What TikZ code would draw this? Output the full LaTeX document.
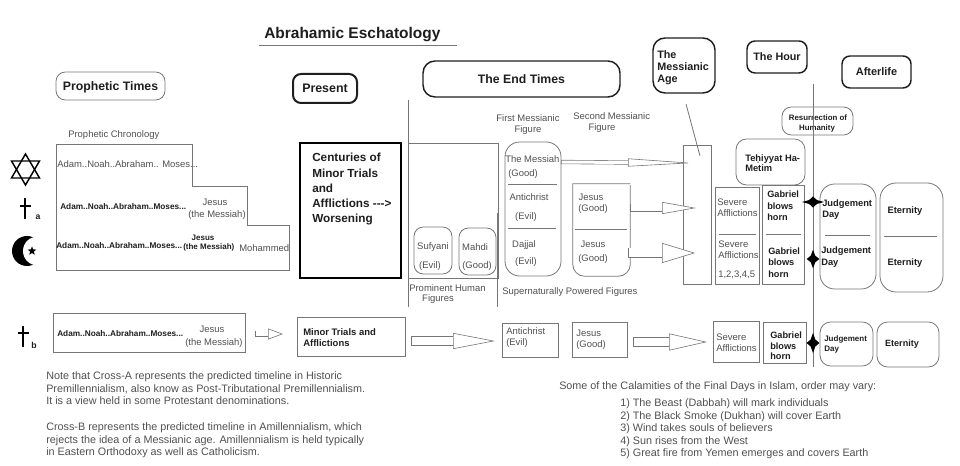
\documentclass[tikz,border=0pt]{standalone}
\usepackage{fontspec}
\setmainfont{Liberation Sans}
\usepackage{xcolor}
\usetikzlibrary{shapes.geometric, arrows.meta}
\definecolor{ink}{HTML}{505050}
\definecolor{dark}{HTML}{1E1E1E}
\definecolor{edge}{HTML}{767676}
\tikzstyle{block}=[draw=edge, rectangle, line width=0.6pt, inner sep=0pt]
\tikzstyle{capsule}=[block, rounded corners=7pt]
\tikzstyle{heavy}=[block, draw=dark, rounded corners=6pt, line width=1.1pt, text=dark]
\tikzstyle{rule}=[draw=edge, line width=0.6pt]
\tikzset{
	wh/.style 2 args={minimum width=#1*0.75pt, minimum height=#2*0.75pt},
	txt/.style={inner sep=0pt, text=ink, font=\fontsize{#1}{#1}\selectfont, text height=0.72*#1pt, text depth=0.06*#1pt},
	bld/.style={inner sep=0pt, text=dark, font=\fontsize{#1}{#1}\selectfont\bfseries, text height=0.72*#1pt, text depth=0.06*#1pt},
	para/.style={inner sep=0pt, text=ink, align=left, font=\fontsize{8.1}{9.35}\selectfont},
	fatarrow/.style n args={3}{line width=0.45pt, draw=edge, double=white, double distance=#1*0.75pt, {Bar[width=#1*0.75pt+0.9pt, line width=0.45pt]}-{Triangle[open, length=#2*0.75pt, width=#3*0.75pt, line width=0.45pt, fill=white]}},
	spark/.style={star, star points=4, star point ratio=2, fill=black, inner sep=0pt, minimum size=#1*0.75pt}
}

\begin{document}
\begin{tikzpicture}[x=0.75pt, y=-0.75pt]
	\useasboundingbox (0,0) rectangle (960,466);
	\node[bld=11.6, anchor=west] (title) at (264,33) {Abrahamic Eschatology};
	\coordinate (titleL) at (259,45);
	\coordinate (titleR) at (457,45);
	\draw[rule] (titleL) -- (titleR);

	\node[capsule, wh={109}{28}, bld=9.2] (times) at (110.5,86) {Prophetic Times};
	\node[heavy, wh={64}{29}, bld=9.3, line width=1.5pt] (present) at (325,88.5) {Present};
	\node[heavy, wh={197}{36}, bld=9.2, rounded corners=9pt] (endtimes) at (521.5,79) {The End Times};
	\node[heavy, wh={62}{55}, rounded corners=9pt] (age) at (684,65.5) {};
	\node[bld=8.1, anchor=west] (ageA) at (657,54.5) {The};
	\node[bld=8.1, anchor=west] (ageB) at (657,67) {Messianic};
	\node[bld=8.1, anchor=west] (ageC) at (657,79) {Age};
	\node[heavy, wh={60}{32}, bld=8.1] (hour) at (777,57) {The Hour};
	\node[heavy, wh={69}{32}, bld=8.2] (afterlife) at (876.5,72) {Afterlife};
	\node[capsule, wh={71}{28}] (rising) at (817.5,121) {};
	\node[bld=5.9] (risingA) at (818,118) {Resurrection of};
	\node[bld=5.9] (risingB) at (817,128) {Humanity};

	\node[txt=7.1, anchor=west] (chron) at (68,134) {Prophetic Chronology};
	\draw[rule] (56,144) -- (192,144) -- (192,186) -- (247,186) -- (247,225) -- (289,225) -- (289,270) -- (56,270) -- cycle;
	\node[txt=7.1, anchor=west] (rowA) at (57,164) {Adam..Noah..Abraham.. Moses...};
	\node[bld=6.2, anchor=west] (rowB) at (60,207) {Adam..Noah..Abraham..Moses...};
	\node[txt=7.1] (jesusB) at (215,202) {Jesus};
	\node[txt=7.1] (messiahB) at (217,214) {(the Messiah)};
	\node[bld=6.2, anchor=west] (rowC) at (56,246) {Adam..Noah..Abraham..Moses...};
	\node[bld=6] (jesusC) at (203,238) {Jesus};
	\node[bld=6, anchor=west] (messiahC) at (183,247) {(the Messiah)};
	\node[txt=7.1, anchor=west] (mohammed) at (239,248) {Mohammed};

	\draw[line width=1.1pt, black] (25.5,154) -- (39.5,178) -- (11.5,178) -- cycle;
	\draw[line width=1.1pt, black] (25.5,185) -- (39.5,161) -- (11.5,161) -- cycle;
	\draw[line width=1.5pt, black] (25,198) -- (25,219) (20,206) -- (31,206);
	\node[bld=6.5] (crossA) at (38,217) {a};
	\fill[black] (27,251) circle (15);
	\fill[white] (37.4,251) circle (14.4);
	\node[star, star points=5, star point ratio=2.4, fill=black, inner sep=0pt, minimum size=7pt] (crescent) at (32,251) {};

	\node[block, draw=black, line width=1.9pt, wh={101}{135}] (centuries) at (350.5,210.5) {};
	\node[bld=8.8, anchor=west] (centuriesA) at (312,158) {Centuries of};
	\node[bld=8.8, anchor=west] (centuriesB) at (312,174) {Minor Trials};
	\node[bld=8.8, anchor=west] (centuriesC) at (312,189) {and};
	\node[bld=8.8, anchor=west] (centuriesD) at (312,204) {Afflictions -{}-{}-{}>};
	\node[bld=8.8, anchor=west] (centuriesE) at (312,219) {Worsening};

	\coordinate (leftA) at (408,100);
	\coordinate (leftB) at (408,307);
	\draw[rule] (leftA) -- (leftB);
	\node[block, wh={90}{135}] (human) at (453,210.5) {};
	\coordinate (rightA) at (497,213);
	\coordinate (rightB) at (497,307);
	\draw[rule] (rightA) -- (rightB);
	\node[capsule, wh={38}{47}] (sufyani) at (433,250.5) {};
	\node[txt=7.1] (sufyaniA) at (433,246) {Sufyani};
	\node[txt=7.1] (sufyaniB) at (430,265) {(Evil)};
	\node[capsule, wh={37}{47}] (mahdi) at (477.5,251.5) {};
	\node[txt=7.1] (mahdiA) at (475,247) {Mahdi};
	\node[txt=7.1] (mahdiB) at (477,265) {(Good)};
	\node[txt=7.1, anchor=west] (humanA) at (409,288) {Prominent Human};
	\node[txt=7.1] (humanB) at (438,298) {Figures};

	\node[txt=7.1] (firstA) at (528,118) {First Messianic};
	\node[txt=7.1] (firstB) at (528,129) {Figure};
	\node[txt=7.1, anchor=west] (secondA) at (573,116) {Second Messianic};
	\node[txt=7.1] (secondB) at (602,127) {Figure};
	\node[capsule, wh={56}{134}, rounded corners=11pt] (first) at (533,209) {};
	\node[txt=7.1, anchor=west] (firstC) at (505,159) {The Messiah};
	\node[txt=7.1] (firstD) at (523,173) {(Good)};
	\coordinate (firstL) at (508,184);
	\coordinate (firstR) at (557,184);
	\draw[rule] (firstL) -- (firstR);
	\node[txt=7.1] (firstE) at (529,197) {Antichrist};
	\node[txt=7.1] (firstF) at (526,216) {(Evil)};
	\coordinate (firstM) at (508,228);
	\coordinate (firstN) at (556,228);
	\draw[rule] (firstM) -- (firstN);
	\node[txt=7.1] (firstG) at (524,244) {Dajjal};
	\node[txt=7.1] (firstH) at (526,261) {(Evil)};

	\node[wh={57}{92}, inner sep=0pt] (second) at (601.5,230) {};
	\draw[rule] (second.north east) -- (second.north west) [rounded corners=9pt] -- (second.south west) -- (second.south east) -- ([yshift=-1pt]second.north east);
	\node[txt=7.1] (secondC) at (591,197) {Jesus};
	\node[txt=7.1] (secondD) at (593,208) {(Good)};
	\coordinate (secondL) at (575,229);
	\coordinate (secondR) at (627,229);
	\draw[rule] (secondL) -- (secondR);
	\node[txt=7.1] (secondE) at (593,244) {Jesus};
	\node[txt=7.1] (secondF) at (593,258) {(Good)};
	\node[txt=7.1, anchor=west] (powered) at (502,291) {Supernaturally Powered Figures};

	\node[block, wh={28}{139}] (agebar) at (697,214.5) {};
	\coordinate (pointer) at (686,104);
	\coordinate (pointee) at (700,156);
	\draw[rule] (pointer) -- (pointee);
	\coordinate (shaftA) at (561,162);
	\coordinate (tipA) at (693,163);
	\draw[fatarrow={3}{65}{8}] (shaftA) -- (tipA);
	\coordinate (shaftB) at (630,208);
	\coordinate (tipB) at (696,208);
	\draw[fatarrow={7}{34}{12}] (shaftB) -- (tipB);
	\coordinate (shaftC) at (628,253);
	\coordinate (tipC) at (695,253);
	\draw[fatarrow={9}{33}{20}] (shaftC) -- (tipC);

	\node[capsule, wh={69}{46}, rounded corners=8pt] (tehiyyat) at (770.5,162) {};
	\node[bld=7, anchor=west] (tehiyyatA) at (745,158) {Teḥiyyat Ha-};
	\node[bld=7, anchor=west] (tehiyyatB) at (745,168.5) {Metim};
	\node[block, wh={44}{97}] (severe) at (737,235.5) {};
	\node[txt=7.1, anchor=west] (severeA) at (717,202) {Severe};
	\node[txt=7.1, anchor=west] (severeB) at (717,213) {Afflictions};
	\coordinate (severeL) at (719,234);
	\coordinate (severeR) at (756,234);
	\draw[rule] (severeL) -- (severeR);
	\node[txt=7.1, anchor=west] (severeC) at (718,244) {Severe};
	\node[txt=7.1, anchor=west] (severeD) at (718,255) {Afflictions};
	\node[txt=7.1, anchor=west] (severeE) at (718,274) {1,2,3,4,5};
	\node[block, wh={42}{99}] (gabriel) at (783,234.5) {};
	\node[bld=6.9, anchor=west] (gabrielA) at (767,194) {Gabriel};
	\node[bld=6.9, anchor=west] (gabrielB) at (767,206) {blows};
	\node[bld=6.9, anchor=west] (gabrielC) at (767,217) {horn};
	\coordinate (gabrielL) at (766,234);
	\coordinate (gabrielR) at (801,234);
	\draw[rule] (gabrielL) -- (gabrielR);
	\node[bld=6.9, anchor=west] (gabrielD) at (768,251) {Gabriel};
	\node[bld=6.9, anchor=west] (gabrielE) at (768,262) {blows};
	\node[bld=6.9, anchor=west] (gabrielF) at (768,274) {horn};

	\node[capsule, wh={56}{105}, rounded corners=11pt] (judge) at (848,236.5) {};
	\node[bld=7, anchor=west] (judgeA) at (822,203) {Judgement};
	\node[bld=7, anchor=west] (judgeB) at (822,214) {Day};
	\coordinate (judgeL) at (825,235);
	\coordinate (judgeR) at (870,235);
	\draw[rule] (judgeL) -- (judgeR);
	\node[bld=7, anchor=west] (judgeC) at (821,250) {Judgement};
	\node[bld=7, anchor=west] (judgeD) at (821,262) {Day};
	\node[capsule, wh={63}{109}, rounded corners=12pt] (eternity) at (911.5,237.5) {};
	\node[bld=7] (eternityA) at (905,210) {Eternity};
	\coordinate (eternityL) at (884,236);
	\coordinate (eternityR) at (937,236);
	\draw[rule] (eternityL) -- (eternityR);
	\node[bld=7] (eternityB) at (905,262) {Eternity};

	\draw[line width=1.5pt, black] (23,326) -- (23,347) (18,333) -- (29,333);
	\node[bld=6.5] (crossB) at (34,346) {b};
	\node[block, wh={192}{39}] (rowD) at (149,332.5) {};
	\node[bld=6.2, anchor=west] (rowDa) at (57,334) {Adam..Noah..Abraham..Moses...};
	\node[txt=7.1] (jesusD) at (212,329) {Jesus};
	\node[txt=7.1, anchor=west] (messiahD) at (185,342) {(the Messiah)};
	\coordinate (shaftD) at (255,334);
	\coordinate (tipD) at (283,334);
	\draw[fatarrow={5}{15}{11}] (shaftD) -- (tipD);
	\node[block, wh={108}{39}] (minor) at (351,336.5) {};
	\node[bld=7.1, anchor=west] (minorA) at (303,332) {Minor Trials and};
	\node[bld=7.1, anchor=west] (minorB) at (303,343) {Afflictions};
	\coordinate (shaftE) at (411,341);
	\coordinate (tipE) at (495,341);
	\draw[fatarrow={8}{42}{16}] (shaftE) -- (tipE);
	\node[block, wh={56}{34}] (antichrist) at (530,340) {};
	\node[txt=7.1, anchor=west] (antichristA) at (506,331) {Antichrist};
	\node[txt=7.1, anchor=west] (antichristB) at (506,342) {(Evil)};
	\node[block, wh={55}{35}] (jesus) at (599.5,339.5) {};
	\node[txt=7.1, anchor=west] (jesusA) at (576,333) {Jesus};
	\node[txt=7.1, anchor=west] (jesusG) at (576,344) {(Good)};
	\coordinate (shaftF) at (633,342);
	\coordinate (tipF) at (707,342);
	\draw[fatarrow={8}{38}{17}] (shaftF) -- (tipF);
	\node[block, wh={46}{41}] (severeX) at (736,341.5) {};
	\node[txt=7.1, anchor=west] (severeXa) at (716,337) {Severe};
	\node[txt=7.1, anchor=west] (severeXb) at (716,348) {Afflictions};
	\node[block, wh={43}{41}] (gabrielX) at (784.5,342.5) {};
	\node[bld=6.9, anchor=west] (gabrielXa) at (770,335) {Gabriel};
	\node[bld=6.9, anchor=west] (gabrielXb) at (770,346) {blows};
	\node[bld=6.9, anchor=west] (gabrielXc) at (770,356) {horn};
	\node[capsule, wh={53}{44}, rounded corners=8pt] (judgeX) at (846.5,344) {};
	\node[bld=6, anchor=west] (judgeXa) at (824,339) {Judgement};
	\node[bld=6, anchor=west] (judgeXb) at (824,349) {Day};
	\node[capsule, wh={62}{45}, rounded corners=8pt] (eternityX) at (908,344.5) {};
	\node[bld=6.8] (eternityXa) at (902,344) {Eternity};

	\coordinate (hourA) at (813,84);
	\coordinate (hourB) at (813,367);
	\draw[rule] (hourA) -- (hourB);
	\node[spark=17, xscale=1.3, yscale=0.65] (sparkA) at (813,202) {};
	\node[spark=17, xscale=0.75, yscale=1.1] (sparkB) at (813,259) {};
	\node[spark=17, xscale=0.75, yscale=1.2] (sparkC) at (813,343) {};

	\node[para, anchor=north west] (noteA) at (46,371.7) {Note that Cross-A represents the predicted timeline in Historic\\Premillennialism, also know as Post-Tributational Premillennialism.\\It is a view held in some Protestant denominations.};
	\node[para, anchor=north west] (noteB) at (46,422.7) {Cross-B represents the predicted timeline in Amillennialism, which\\rejects the idea of a Messianic age. Amillennialism is held typically\\in Eastern Orthodoxy as well as Catholicism.};
	\node[para, anchor=west] (calamity) at (559,386.5) {Some of the Calamities of the Final Days in Islam, order may vary:};
	\node[para, anchor=north west] (calamities) at (620,398.7) {1) The Beast (Dabbah) will mark individuals\\2) The Black Smoke (Dukhan) will cover Earth\\3) Wind takes souls of believers\\4) Sun rises from the West\\5) Great fire from Yemen emerges and covers Earth};
\end{tikzpicture}
\end{document}
